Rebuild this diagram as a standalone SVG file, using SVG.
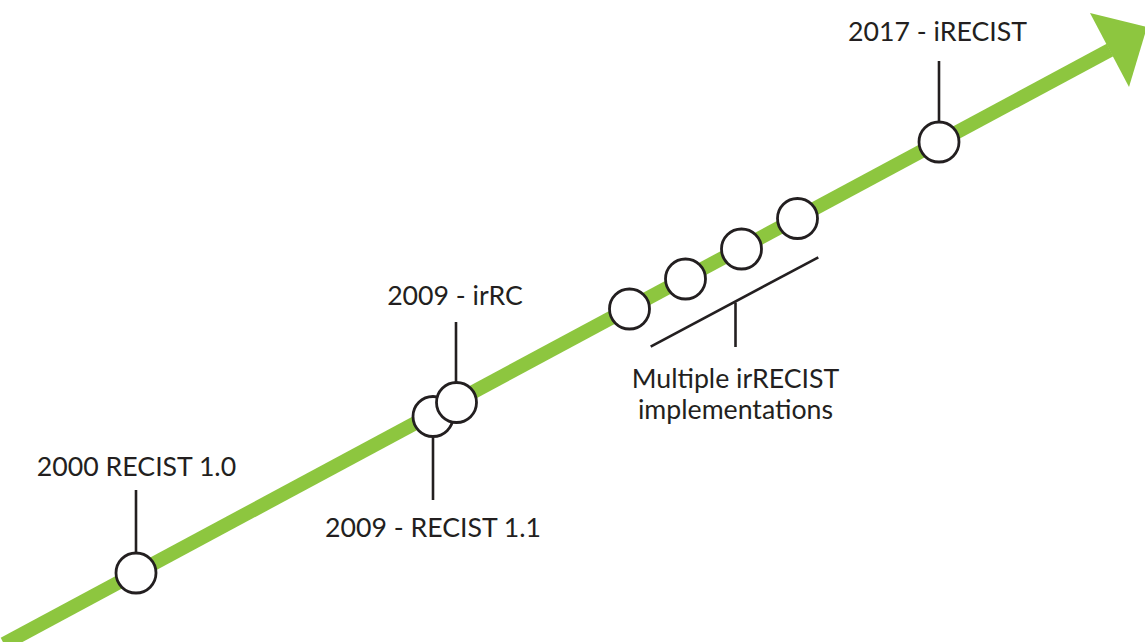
<svg xmlns="http://www.w3.org/2000/svg" width="1145" height="642" viewBox="0 0 1145 642">
<style>
.lbl{font-family:Lato,"Open Sans","Liberation Sans",sans-serif;font-size:26.7px;fill:#231f20;text-anchor:middle}
.tick{stroke:#231f20;stroke-width:2.6;fill:none}
.dot{fill:#fff;stroke:#231f20;stroke-width:2.8}
</style>
<rect width="1145" height="642" fill="#fff"/>
<g id="timeline">
<line x1="4" y1="644" x2="1110" y2="50" stroke="#8DC63F" stroke-width="14"/>
<polygon points="1090,13 1147,27 1129,87" fill="#8DC63F"/>
</g>
<g id="connectors">
<line class="tick" x1="136" y1="490" x2="136" y2="552"/>
<line class="tick" x1="433" y1="438" x2="433" y2="500"/>
<line class="tick" x1="456" y1="322" x2="456" y2="382"/>
<line class="tick" x1="939" y1="61" x2="939" y2="121"/>
<line class="tick" x1="650.7" y1="346.7" x2="818.3" y2="257.3"/>
<line class="tick" x1="735.5" y1="302.5" x2="735.5" y2="347"/>
</g>
<g id="n2000">
<circle class="dot" cx="136" cy="573" r="20"/>
<text class="lbl" x="136.5" y="476">2000 RECIST 1.0</text>
</g>
<g id="n2009a">
<circle class="dot" cx="433" cy="416.5" r="20"/>
<text class="lbl" x="433" y="537">2009 - RECIST 1.1</text>
</g>
<g id="n2009b">
<circle class="dot" cx="456.5" cy="402.5" r="20"/>
<text class="lbl" x="455" y="305">2009 - irRC</text>
</g>
<g id="multi">
<circle class="dot" cx="629.5" cy="309" r="20"/>
<circle class="dot" cx="685.5" cy="279" r="20"/>
<circle class="dot" cx="741.5" cy="249" r="20"/>
<circle class="dot" cx="797.5" cy="218.5" r="20"/>
<text class="lbl" x="735.5" y="388">Multiple irRECIST</text>
<text class="lbl" x="735.5" y="419">implementations</text>
</g>
<g id="n2017">
<circle class="dot" cx="939" cy="142" r="20"/>
<text class="lbl" x="937.5" y="41">2017 - iRECIST</text>
</g>
</svg>
